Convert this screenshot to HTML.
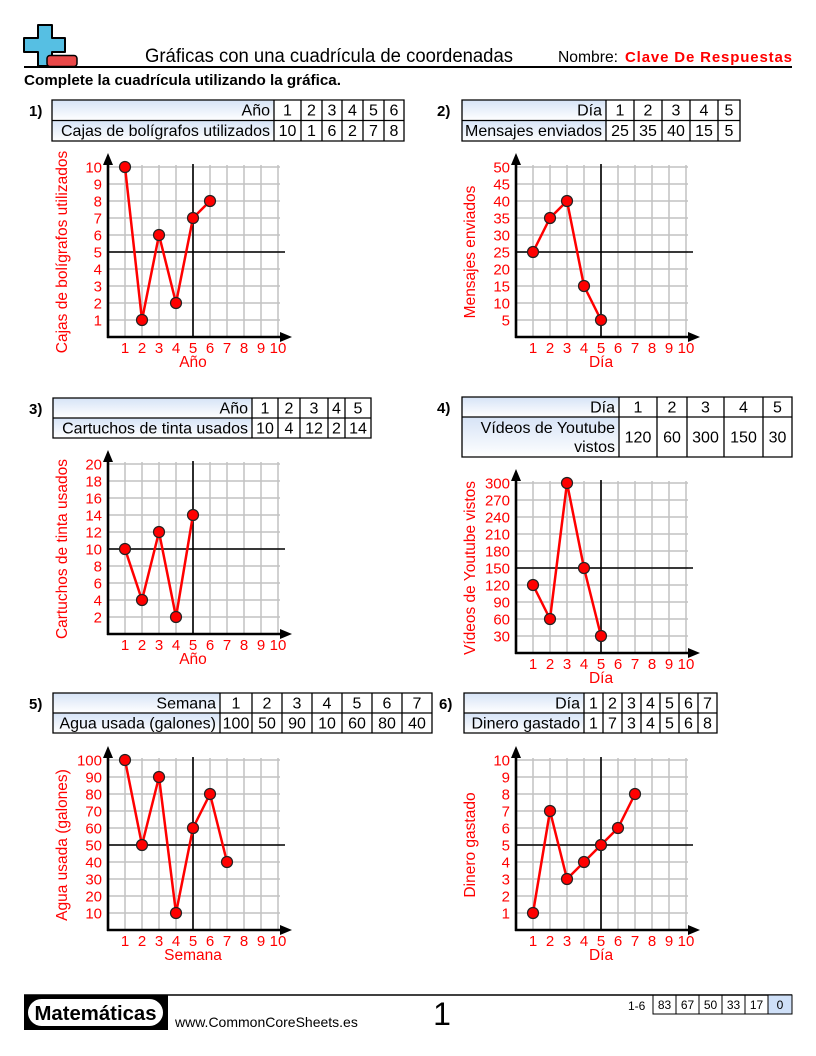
<!DOCTYPE html>
<html>
<head>
<meta charset="utf-8">
<style>
html,body{margin:0;padding:0;background:#fff}
svg{display:block}
text{font-family:"Liberation Sans",Arial,sans-serif}
</style>
</head>
<body>
<svg width="816" height="1056" viewBox="0 0 816 1056" xmlns="http://www.w3.org/2000/svg">
<defs>
<linearGradient id="lg" x1="0" y1="0" x2="0" y2="1">
<stop offset="0" stop-color="#d6e3f6"/><stop offset="1" stop-color="#ffffff"/>
</linearGradient>
<g id="grid">
<path d="M17 0V-172M34 0V-172M51 0V-172M68 0V-172M85 0V-172M102 0V-172M119 0V-172M136 0V-172M153 0V-172M170 0V-172M0 -17H172M0 -34H172M0 -51H172M0 -68H172M0 -85H172M0 -102H172M0 -119H172M0 -136H172M0 -153H172M0 -170H172" fill="none" stroke="#c2c2c2" stroke-width="1.5"/>
<path d="M85 0V-173M0 -85H177" fill="none" stroke="#000" stroke-width="1.6"/>
<path d="M0 1V-174M-1 0H174" fill="none" stroke="#000" stroke-width="2.6"/>
<polygon points="0,-184 -5,-172 5,-172" fill="#000"/>
<polygon points="184,0 172,-5 172,5" fill="#000"/>
</g>
</defs>

<!-- Header -->
<polygon points="38,25 52,25 52,38 65,38 65,52 52,52 52,66 38,66 38,52 24,52 24,38 38,38" fill="#56bfe3" stroke="#000" stroke-width="2" stroke-linejoin="round"/>
<rect x="47" y="55.5" width="30" height="11" rx="3" fill="#e94848" stroke="#000" stroke-width="1.5"/>
<line x1="24" y1="67" x2="792" y2="67" stroke="#000" stroke-width="2"/>
<text x="145" y="62" font-size="19" textLength="368" lengthAdjust="spacingAndGlyphs">Gráficas con una cuadrícula de coordenadas</text>
<text x="558" y="62" font-size="16" textLength="60" lengthAdjust="spacingAndGlyphs">Nombre:</text>
<text x="625" y="62" font-size="15" font-weight="bold" fill="#f00" textLength="167" lengthAdjust="spacing">Clave De Respuestas</text>
<text x="24" y="85" font-size="15" font-weight="bold" textLength="317" lengthAdjust="spacingAndGlyphs">Complete la cuadrícula utilizando la gráfica.</text>

<!-- Problem labels -->
<g font-size="15" font-weight="bold">
<text x="29" y="116">1)</text>
<text x="437" y="116">2)</text>
<text x="29" y="414">3)</text>
<text x="437" y="413">4)</text>
<text x="29" y="709">5)</text>
<text x="439" y="709">6)</text>
</g>

<!-- Table 1 -->
<rect x="52" y="100" width="222" height="20.5" fill="url(#lg)"/>
<rect x="52" y="120.5" width="222" height="20.5" fill="url(#lg)"/>
<path d="M52 100H404V141H52ZM52 120.5H404M274 100V141M301 100V141M322 100V141M342 100V141M363 100V141M384 100V141" fill="none" stroke="#000" stroke-width="1.3"/>
<g font-size="16">
<text x="270" y="115.5" text-anchor="end">Año</text>
<text x="270" y="136" text-anchor="end">Cajas de bolígrafos utilizados</text>
<g text-anchor="middle">
<text x="287.5" y="115.5">1</text><text x="311.5" y="115.5">2</text><text x="332" y="115.5">3</text><text x="352.5" y="115.5">4</text><text x="373.5" y="115.5">5</text><text x="394" y="115.5">6</text>
<text x="287.5" y="136">10</text><text x="311.5" y="136">1</text><text x="332" y="136">6</text><text x="352.5" y="136">2</text><text x="373.5" y="136">7</text><text x="394" y="136">8</text>
</g>
</g>

<!-- Table 2 -->
<rect x="462" y="100" width="144" height="20.5" fill="url(#lg)"/>
<rect x="462" y="120.5" width="144" height="20.5" fill="url(#lg)"/>
<path d="M462 100H740V141H462ZM462 120.5H740M606 100V141M634 100V141M662 100V141M690 100V141M718 100V141" fill="none" stroke="#000" stroke-width="1.3"/>
<g font-size="16">
<text x="602" y="115.5" text-anchor="end">Día</text>
<text x="602" y="136" text-anchor="end">Mensajes enviados</text>
<g text-anchor="middle">
<text x="620" y="115.5">1</text><text x="648" y="115.5">2</text><text x="676" y="115.5">3</text><text x="704" y="115.5">4</text><text x="729" y="115.5">5</text>
<text x="620" y="136">25</text><text x="648" y="136">35</text><text x="676" y="136">40</text><text x="704" y="136">15</text><text x="729" y="136">5</text>
</g>
</g>

<!-- Table 3 -->
<rect x="53" y="398" width="199" height="20" fill="url(#lg)"/>
<rect x="53" y="418" width="199" height="20" fill="url(#lg)"/>
<path d="M53 398H371V438H53ZM53 418H371M252 398V438M278 398V438M300 398V438M328 398V438M345 398V438" fill="none" stroke="#000" stroke-width="1.3"/>
<g font-size="16">
<text x="248" y="413.5" text-anchor="end">Año</text>
<text x="248" y="433.5" text-anchor="end">Cartuchos de tinta usados</text>
<g text-anchor="middle">
<text x="265" y="413.5">1</text><text x="289" y="413.5">2</text><text x="314" y="413.5">3</text><text x="336.5" y="413.5">4</text><text x="358" y="413.5">5</text>
<text x="265" y="433.5">10</text><text x="289" y="433.5">4</text><text x="314" y="433.5">12</text><text x="336.5" y="433.5">2</text><text x="358" y="433.5">14</text>
</g>
</g>

<!-- Table 4 -->
<rect x="462" y="397" width="157" height="20" fill="url(#lg)"/>
<rect x="462" y="417" width="157" height="40" fill="url(#lg)"/>
<path d="M462 397H792V457H462ZM462 417H792M619 397V457M657 397V457M687 397V457M724 397V457M763 397V457" fill="none" stroke="#000" stroke-width="1.3"/>
<g font-size="16">
<text x="615" y="412.5" text-anchor="end">Día</text>
<text x="615" y="433" text-anchor="end">Vídeos de Youtube</text>
<text x="615" y="452" text-anchor="end">vistos</text>
<g text-anchor="middle">
<text x="638" y="412.5">1</text><text x="672" y="412.5">2</text><text x="705.5" y="412.5">3</text><text x="743.5" y="412.5">4</text><text x="777.5" y="412.5">5</text>
<text x="638" y="442.5">120</text><text x="672" y="442.5">60</text><text x="705.5" y="442.5">300</text><text x="743.5" y="442.5">150</text><text x="777.5" y="442.5">30</text>
</g>
</g>

<!-- Table 5 -->
<rect x="53" y="693" width="167" height="20" fill="url(#lg)"/>
<rect x="53" y="713" width="167" height="20" fill="url(#lg)"/>
<path d="M53 693H432V733H53ZM53 713H432M220 693V733M252 693V733M282 693V733M312 693V733M342 693V733M372 693V733M402 693V733" fill="none" stroke="#000" stroke-width="1.3"/>
<g font-size="16">
<text x="216" y="708.5" text-anchor="end">Semana</text>
<text x="216" y="728.5" text-anchor="end">Agua usada (galones)</text>
<g text-anchor="middle">
<text x="236" y="708.5">1</text><text x="267" y="708.5">2</text><text x="297" y="708.5">3</text><text x="327" y="708.5">4</text><text x="357" y="708.5">5</text><text x="387" y="708.5">6</text><text x="417" y="708.5">7</text>
<text x="236" y="728.5">100</text><text x="267" y="728.5">50</text><text x="297" y="728.5">90</text><text x="327" y="728.5">10</text><text x="357" y="728.5">60</text><text x="387" y="728.5">80</text><text x="417" y="728.5">40</text>
</g>
</g>

<!-- Table 6 -->
<rect x="464" y="693" width="120" height="20" fill="url(#lg)"/>
<rect x="464" y="713" width="120" height="20" fill="url(#lg)"/>
<path d="M464 693H717V733H464ZM464 713H717M584 693V733M603 693V733M622 693V733M641 693V733M660 693V733M679 693V733M698 693V733" fill="none" stroke="#000" stroke-width="1.3"/>
<g font-size="16">
<text x="580" y="708.5" text-anchor="end">Día</text>
<text x="580" y="728.5" text-anchor="end">Dinero gastado</text>
<g text-anchor="middle">
<text x="593.5" y="708.5">1</text><text x="612.5" y="708.5">2</text><text x="631.5" y="708.5">3</text><text x="650.5" y="708.5">4</text><text x="669.5" y="708.5">5</text><text x="688.5" y="708.5">6</text><text x="707.5" y="708.5">7</text>
<text x="593.5" y="728.5">1</text><text x="612.5" y="728.5">7</text><text x="631.5" y="728.5">3</text><text x="650.5" y="728.5">4</text><text x="669.5" y="728.5">5</text><text x="688.5" y="728.5">6</text><text x="707.5" y="728.5">8</text>
</g>
</g>

<!-- Graph 1 -->
<g transform="translate(108,337)">
<use href="#grid"/>
<polyline points="17,-170 34,-17 51,-102 68,-34 85,-119 102,-136" fill="none" stroke="#f00" stroke-width="2.5" stroke-linejoin="round"/>
<g fill="#f00" stroke="#222" stroke-width="1.2">
<circle cx="17" cy="-170" r="5.5"/><circle cx="34" cy="-17" r="5.5"/><circle cx="51" cy="-102" r="5.5"/><circle cx="68" cy="-34" r="5.5"/><circle cx="85" cy="-119" r="5.5"/><circle cx="102" cy="-136" r="5.5"/>
</g>
<g fill="#f00" font-size="15">
<g text-anchor="end">
<text x="-6" y="-11.5">1</text><text x="-6" y="-28.5">2</text><text x="-6" y="-45.5">3</text><text x="-6" y="-62.5">4</text><text x="-6" y="-79.5">5</text><text x="-6" y="-96.5">6</text><text x="-6" y="-113.5">7</text><text x="-6" y="-130.5">8</text><text x="-6" y="-147.5">9</text><text x="-6" y="-164.5">10</text>
</g>
<g text-anchor="middle">
<text x="17" y="16">1</text><text x="34" y="16">2</text><text x="51" y="16">3</text><text x="68" y="16">4</text><text x="85" y="16">5</text><text x="102" y="16">6</text><text x="119" y="16">7</text><text x="136" y="16">8</text><text x="153" y="16">9</text><text x="170" y="16">10</text>
<text x="85" y="30" font-size="15.5">Año</text>
<text transform="translate(-41,-85) rotate(-90)" font-size="15.5">Cajas de bolígrafos utilizados</text>
</g>
</g>
</g>

<!-- Graph 2 -->
<g transform="translate(516,337)">
<use href="#grid"/>
<polyline points="17,-85 34,-119 51,-136 68,-51 85,-17" fill="none" stroke="#f00" stroke-width="2.5" stroke-linejoin="round"/>
<g fill="#f00" stroke="#222" stroke-width="1.2">
<circle cx="17" cy="-85" r="5.5"/><circle cx="34" cy="-119" r="5.5"/><circle cx="51" cy="-136" r="5.5"/><circle cx="68" cy="-51" r="5.5"/><circle cx="85" cy="-17" r="5.5"/>
</g>
<g fill="#f00" font-size="15">
<g text-anchor="end">
<text x="-6" y="-11.5">5</text><text x="-6" y="-28.5">10</text><text x="-6" y="-45.5">15</text><text x="-6" y="-62.5">20</text><text x="-6" y="-79.5">25</text><text x="-6" y="-96.5">30</text><text x="-6" y="-113.5">35</text><text x="-6" y="-130.5">40</text><text x="-6" y="-147.5">45</text><text x="-6" y="-164.5">50</text>
</g>
<g text-anchor="middle">
<text x="17" y="16">1</text><text x="34" y="16">2</text><text x="51" y="16">3</text><text x="68" y="16">4</text><text x="85" y="16">5</text><text x="102" y="16">6</text><text x="119" y="16">7</text><text x="136" y="16">8</text><text x="153" y="16">9</text><text x="170" y="16">10</text>
<text x="85" y="30" font-size="15.5">Día</text>
<text transform="translate(-41,-85) rotate(-90)" font-size="15.5">Mensajes enviados</text>
</g>
</g>
</g>

<!-- Graph 3 -->
<g transform="translate(108,634)">
<use href="#grid"/>
<polyline points="17,-85 34,-34 51,-102 68,-17 85,-119" fill="none" stroke="#f00" stroke-width="2.5" stroke-linejoin="round"/>
<g fill="#f00" stroke="#222" stroke-width="1.2">
<circle cx="17" cy="-85" r="5.5"/><circle cx="34" cy="-34" r="5.5"/><circle cx="51" cy="-102" r="5.5"/><circle cx="68" cy="-17" r="5.5"/><circle cx="85" cy="-119" r="5.5"/>
</g>
<g fill="#f00" font-size="15">
<g text-anchor="end">
<text x="-6" y="-11.5">2</text><text x="-6" y="-28.5">4</text><text x="-6" y="-45.5">6</text><text x="-6" y="-62.5">8</text><text x="-6" y="-79.5">10</text><text x="-6" y="-96.5">12</text><text x="-6" y="-113.5">14</text><text x="-6" y="-130.5">16</text><text x="-6" y="-147.5">18</text><text x="-6" y="-164.5">20</text>
</g>
<g text-anchor="middle">
<text x="17" y="16">1</text><text x="34" y="16">2</text><text x="51" y="16">3</text><text x="68" y="16">4</text><text x="85" y="16">5</text><text x="102" y="16">6</text><text x="119" y="16">7</text><text x="136" y="16">8</text><text x="153" y="16">9</text><text x="170" y="16">10</text>
<text x="85" y="30" font-size="15.5">Año</text>
<text transform="translate(-41,-85) rotate(-90)" font-size="15.5">Cartuchos de tinta usados</text>
</g>
</g>
</g>

<!-- Graph 4 -->
<g transform="translate(516,653)">
<use href="#grid"/>
<polyline points="17,-68 34,-34 51,-170 68,-85 85,-17" fill="none" stroke="#f00" stroke-width="2.5" stroke-linejoin="round"/>
<g fill="#f00" stroke="#222" stroke-width="1.2">
<circle cx="17" cy="-68" r="5.5"/><circle cx="34" cy="-34" r="5.5"/><circle cx="51" cy="-170" r="5.5"/><circle cx="68" cy="-85" r="5.5"/><circle cx="85" cy="-17" r="5.5"/>
</g>
<g fill="#f00" font-size="15">
<g text-anchor="end">
<text x="-6" y="-11.5">30</text><text x="-6" y="-28.5">60</text><text x="-6" y="-45.5">90</text><text x="-6" y="-62.5">120</text><text x="-6" y="-79.5">150</text><text x="-6" y="-96.5">180</text><text x="-6" y="-113.5">210</text><text x="-6" y="-130.5">240</text><text x="-6" y="-147.5">270</text><text x="-6" y="-164.5">300</text>
</g>
<g text-anchor="middle">
<text x="17" y="16">1</text><text x="34" y="16">2</text><text x="51" y="16">3</text><text x="68" y="16">4</text><text x="85" y="16">5</text><text x="102" y="16">6</text><text x="119" y="16">7</text><text x="136" y="16">8</text><text x="153" y="16">9</text><text x="170" y="16">10</text>
<text x="85" y="30" font-size="15.5">Día</text>
<text transform="translate(-41,-85) rotate(-90)" font-size="15.5">Vídeos de Youtube vistos</text>
</g>
</g>
</g>

<!-- Graph 5 -->
<g transform="translate(108,930)">
<use href="#grid"/>
<polyline points="17,-170 34,-85 51,-153 68,-17 85,-102 102,-136 119,-68" fill="none" stroke="#f00" stroke-width="2.5" stroke-linejoin="round"/>
<g fill="#f00" stroke="#222" stroke-width="1.2">
<circle cx="17" cy="-170" r="5.5"/><circle cx="34" cy="-85" r="5.5"/><circle cx="51" cy="-153" r="5.5"/><circle cx="68" cy="-17" r="5.5"/><circle cx="85" cy="-102" r="5.5"/><circle cx="102" cy="-136" r="5.5"/><circle cx="119" cy="-68" r="5.5"/>
</g>
<g fill="#f00" font-size="15">
<g text-anchor="end">
<text x="-6" y="-11.5">10</text><text x="-6" y="-28.5">20</text><text x="-6" y="-45.5">30</text><text x="-6" y="-62.5">40</text><text x="-6" y="-79.5">50</text><text x="-6" y="-96.5">60</text><text x="-6" y="-113.5">70</text><text x="-6" y="-130.5">80</text><text x="-6" y="-147.5">90</text><text x="-6" y="-164.5">100</text>
</g>
<g text-anchor="middle">
<text x="17" y="16">1</text><text x="34" y="16">2</text><text x="51" y="16">3</text><text x="68" y="16">4</text><text x="85" y="16">5</text><text x="102" y="16">6</text><text x="119" y="16">7</text><text x="136" y="16">8</text><text x="153" y="16">9</text><text x="170" y="16">10</text>
<text x="85" y="30" font-size="15.5">Semana</text>
<text transform="translate(-41,-85) rotate(-90)" font-size="15.5">Agua usada (galones)</text>
</g>
</g>
</g>

<!-- Graph 6 -->
<g transform="translate(516,930)">
<use href="#grid"/>
<polyline points="17,-17 34,-119 51,-51 68,-68 85,-85 102,-102 119,-136" fill="none" stroke="#f00" stroke-width="2.5" stroke-linejoin="round"/>
<g fill="#f00" stroke="#222" stroke-width="1.2">
<circle cx="17" cy="-17" r="5.5"/><circle cx="34" cy="-119" r="5.5"/><circle cx="51" cy="-51" r="5.5"/><circle cx="68" cy="-68" r="5.5"/><circle cx="85" cy="-85" r="5.5"/><circle cx="102" cy="-102" r="5.5"/><circle cx="119" cy="-136" r="5.5"/>
</g>
<g fill="#f00" font-size="15">
<g text-anchor="end">
<text x="-6" y="-11.5">1</text><text x="-6" y="-28.5">2</text><text x="-6" y="-45.5">3</text><text x="-6" y="-62.5">4</text><text x="-6" y="-79.5">5</text><text x="-6" y="-96.5">6</text><text x="-6" y="-113.5">7</text><text x="-6" y="-130.5">8</text><text x="-6" y="-147.5">9</text><text x="-6" y="-164.5">10</text>
</g>
<g text-anchor="middle">
<text x="17" y="16">1</text><text x="34" y="16">2</text><text x="51" y="16">3</text><text x="68" y="16">4</text><text x="85" y="16">5</text><text x="102" y="16">6</text><text x="119" y="16">7</text><text x="136" y="16">8</text><text x="153" y="16">9</text><text x="170" y="16">10</text>
<text x="85" y="30" font-size="15.5">Día</text>
<text transform="translate(-41,-85) rotate(-90)" font-size="15.5">Dinero gastado</text>
</g>
</g>
</g>

<!-- Footer -->
<line x1="24" y1="995" x2="792" y2="995" stroke="#000" stroke-width="1.5"/>
<rect x="24" y="995" width="144" height="35" fill="#000"/>
<rect x="28" y="999" width="135" height="27" rx="13.5" fill="#fff"/>
<text x="95.5" y="1020" font-size="20" font-weight="bold" text-anchor="middle" textLength="122" lengthAdjust="spacingAndGlyphs">Matemáticas</text>
<text x="175" y="1027" font-size="14">www.CommonCoreSheets.es</text>
<text x="442" y="1025" font-size="32" text-anchor="middle">1</text>
<text x="628" y="1010" font-size="12">1-6</text>
<rect x="768" y="995" width="24" height="19" fill="#cfe0f8"/>
<path d="M653 995H792V1014H653ZM676 995V1014M699 995V1014M722 995V1014M745 995V1014M768 995V1014" fill="none" stroke="#000" stroke-width="1"/>
<g font-size="12" text-anchor="middle">
<text x="664.5" y="1009">83</text><text x="687.5" y="1009">67</text><text x="710.5" y="1009">50</text><text x="733.5" y="1009">33</text><text x="756.5" y="1009">17</text><text x="780" y="1009">0</text>
</g>
</svg>
</body>
</html>
